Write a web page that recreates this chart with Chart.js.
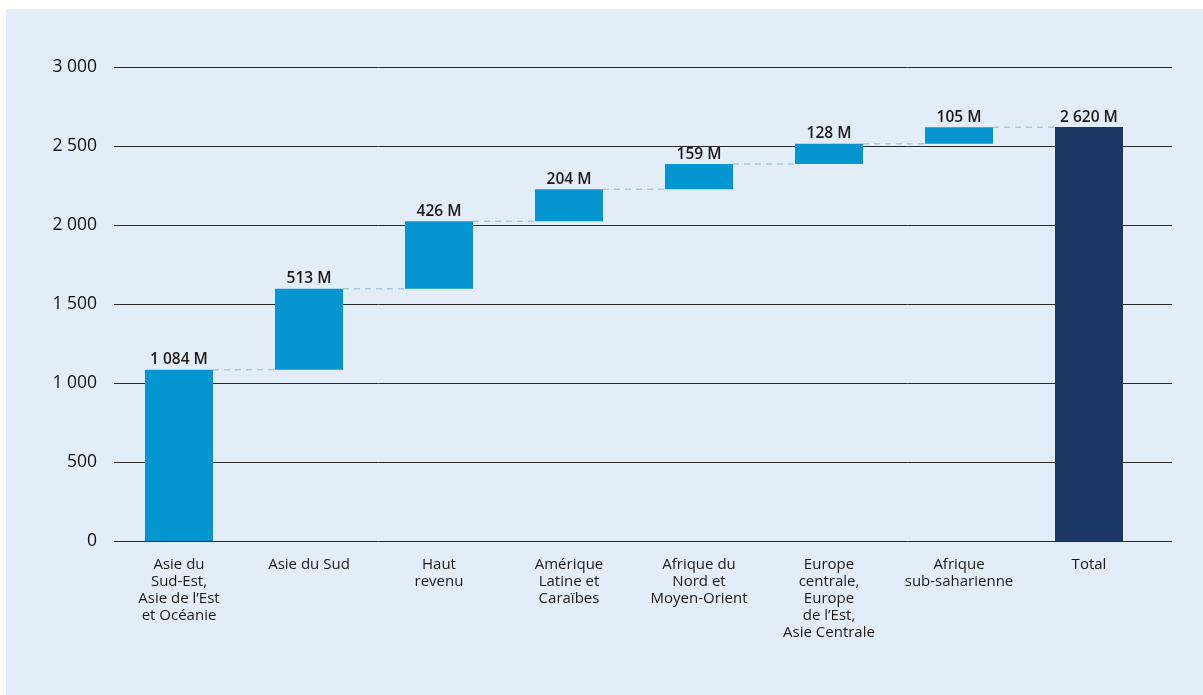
<!DOCTYPE html>
<html lang="fr">
<head>
<meta charset="utf-8">
<script src="https://cdn.jsdelivr.net/npm/chart.js@4"></script>
<style>
  html, body { margin: 0; padding: 0; background: #ffffff; }
  #panel {
    position: absolute; left: 6px; top: 9px;
    width: 1197px; height: 686px;
    background: #e3edf7;
  }
  canvas { display: block; }
</style>
</head>
<body>
<div id="panel"><canvas id="waterfall" width="1197" height="686"></canvas></div>
<script>
// Categories (multi-line labels as drawn under the axis)
const categories = [
  ["Asie du", "Sud-Est,", "Asie de l\u2019Est", "et Océanie"],
  ["Asie du Sud"],
  ["Haut", "revenu"],
  ["Amérique", "Latine et", "Caraïbes"],
  ["Afrique du", "Nord et", "Moyen-Orient"],
  ["Europe", "centrale,", "Europe", "de l\u2019Est,", "Asie Centrale"],
  ["Afrique", "sub-saharienne"],
  ["Total"]
];
// Regional contributions (millions) and the total
const increments = [1084, 513, 426, 204, 159, 128, 105];
const total = 2620;
const yTicks = [0, 500, 1000, 1500, 2000, 2500, 3000];

const barBlue = "#0596d1";
const totalBlue = "#1c3663";

// Build floating [start, end] ranges from the increments
const ranges = [];
let running = 0;
increments.forEach((v) => {
  ranges.push([running, running + v]);
  running += v;
});
ranges.push([0, total]);
const labelValues = increments.concat([total]);

function fmt(n) {
  return String(n).replace(/\B(?=(\d{3})+(?!\d))/g, " ");
}

// Horizontal grid lines that run a bit past the last category
const gridPlugin = {
  id: "grid",
  beforeDatasetsDraw(chart) {
    const { ctx, chartArea, scales } = chart;
    ctx.save();
    ctx.strokeStyle = "#2a2a2a";
    ctx.lineWidth = 1;
    yTicks.forEach((t) => {
      const y = Math.round(scales.y.getPixelForValue(t)) + 0.5;
      ctx.beginPath();
      ctx.moveTo(chartArea.left, y);
      ctx.lineTo(chartArea.right + 18, y);
      ctx.stroke();
    });
    ctx.restore();
  }
};

// Dashed connectors between bars + value labels
const waterfallPlugin = {
  id: "waterfall",
  afterDatasetsDraw(chart) {
    const { ctx, scales } = chart;
    const meta = chart.getDatasetMeta(0);
    ctx.save();
    ctx.strokeStyle = "#a6c9e8";
    ctx.lineWidth = 1.5;
    ctx.setLineDash([6, 5]);
    for (let i = 0; i < meta.data.length - 1; i++) {
      const a = meta.data[i];
      const b = meta.data[i + 1];
      const y = scales.y.getPixelForValue(ranges[i][1]);
      ctx.beginPath();
      ctx.moveTo(a.x + a.width / 2, y);
      ctx.lineTo(b.x - b.width / 2, y);
      ctx.stroke();
    }
    ctx.setLineDash([]);
    ctx.fillStyle = "#1a1a1a";
    ctx.font = "600 15.5px 'Open Sans'";
    ctx.textAlign = "center";
    ctx.textBaseline = "bottom";
    meta.data.forEach((bar, i) => {
      const top = scales.y.getPixelForValue(ranges[i][1]);
      ctx.fillText(fmt(labelValues[i]) + " M", bar.x, top - 2);
    });
    ctx.restore();
  }
};

const ctx = document.getElementById("waterfall").getContext("2d");
new Chart(ctx, {
  type: "bar",
  data: {
    labels: categories,
    datasets: [{
      data: ranges,
      backgroundColor: ranges.map((r, i) => (i === ranges.length - 1 ? totalBlue : barBlue)),
      borderWidth: 0,
      barPercentage: 0.523,
      categoryPercentage: 1
    }]
  },
  options: {
    responsive: false,
    animation: false,
    layout: { padding: { top: 58, right: 49, bottom: 0, left: 0 } },
    plugins: {
      legend: { display: false },
      tooltip: { enabled: false }
    },
    scales: {
      x: {
        grid: { display: false, drawTicks: false },
        border: { display: false },
        ticks: {
          color: "#1a1a1a",
          font: { family: "'Open Sans'", size: 15, lineHeight: 1.13 },
          padding: 15,
          maxRotation: 0,
          autoSkip: false
        },
        afterFit(scale) { scale.height = 154; }
      },
      y: {
        min: 0,
        max: 3000,
        grid: { display: false, drawTicks: false },
        border: { display: false },
        afterBuildTicks(scale) { scale.ticks = yTicks.map((v) => ({ value: v })); },
        ticks: {
          color: "#111111",
          font: { family: "'Open Sans'", size: 17.5 },
          padding: 17,
          callback: (v) => fmt(v)
        },
        afterFit(scale) { scale.width = 108; }
      }
    }
  },
  plugins: [gridPlugin, waterfallPlugin]
});
</script>
</body>
</html>
